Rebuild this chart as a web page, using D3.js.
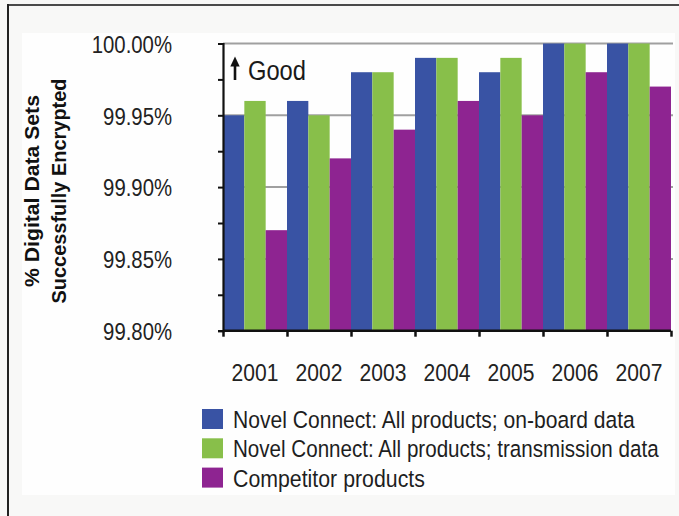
<!DOCTYPE html>
<html>
<head>
<meta charset="utf-8">
<script src="https://cdn.jsdelivr.net/npm/d3@7"></script>
<style>
  html, body { margin: 0; padding: 0; background: #f8f8f7; }
  svg { display: block; }
  text { font-family: "Liberation Sans", Arial, sans-serif; }
</style>
</head>
<body>
<svg id="chart" width="679" height="516"></svg>
<script>
// Encryption success rate by year (percent)
const years = ["2001", "2002", "2003", "2004", "2005", "2006", "2007"];
const seriesNames = [
  "Novel Connect: All products; on-board data",
  "Novel Connect: All products; transmission data",
  "Competitor products"
];
const onBoard      = [99.95, 99.96, 99.98, 99.99, 99.98, 100.00, 100.00];
const transmission = [99.96, 99.95, 99.98, 99.99, 99.99, 100.00, 100.00];
const competitor   = [99.87, 99.92, 99.94, 99.96, 99.95, 99.98, 99.97];
const seriesColors = ["#3953a4", "#88bf4a", "#8e2491"];
const yTicks = [99.80, 99.85, 99.90, 99.95, 100.00];
const yMinorTicks = [99.80, 99.825, 99.85, 99.875, 99.90, 99.925, 99.95, 99.975, 100.00];

const seriesValues = [onBoard, transmission, competitor];
const rows = years.map((yr, i) => ({
  year: yr,
  values: seriesValues.map((vals, s) => ({ s, v: vals[i] }))
}));

const svg = d3.select("#chart");

// Narrow a text horizontally: move its x/y into a transform and scale x by k.
// If a target width is given, k is derived from the natural width.
function squeeze(sel, k, width) {
  sel.each(function () {
    const t = d3.select(this);
    const w = this.getComputedTextLength();
    const f = width ? width / w : k;
    const tx = +t.attr("x") || 0, ty = +t.attr("y") || 0;
    const prev = t.attr("transform") || "";
    t.attr("x", 0).attr("y", 0)
      .attr("transform", `${prev} translate(${tx},${ty}) scale(${f},1)`);
  });
}

// frame
svg.append("rect").attr("x", 22).attr("y", 33).attr("width", 653).attr("height", 462)
  .attr("fill", "#fefefe");
svg.append("line").attr("x1", 8).attr("x2", 679).attr("y1", 5).attr("y2", 5)
  .attr("stroke", "#4a4a4a").attr("stroke-width", 2);
svg.append("line").attr("x1", 8).attr("x2", 8).attr("y1", 4).attr("y2", 516)
  .attr("stroke", "#222").attr("stroke-width", 2);

const plotLeft = 223, plotRight = 671, plotTop = 43.5, plotBottom = 330.7;

const x = d3.scaleBand().domain(years).range([plotLeft, plotRight]).padding(0);
const xs = d3.scaleBand().domain(d3.range(seriesNames.length)).range([0, x.bandwidth()]).padding(0);
const y = d3.scaleLinear().domain([99.8, 100]).range([plotBottom, plotTop]);

// gridlines
svg.append("g").selectAll("line")
  .data(yTicks.filter(t => t > 99.8))
  .join("line")
  .attr("x1", plotLeft).attr("x2", 673)
  .attr("y1", d => y(d)).attr("y2", d => y(d))
  .attr("stroke", "#a0a0a0").attr("stroke-width", 2);

// bars
svg.append("g").selectAll("g")
  .data(rows)
  .join("g")
  .attr("transform", d => `translate(${x(d.year)},0)`)
  .selectAll("rect")
  .data(d => d.values)
  .join("rect")
  .attr("x", d => xs(d.s))
  .attr("width", xs.bandwidth())
  .attr("y", d => y(d.v))
  .attr("height", d => y(99.8) - y(d.v))
  .attr("fill", d => seriesColors[d.s]);

// y axis
const yAxis = d3.axisLeft(y)
  .tickValues(yMinorTicks)
  .tickSize(5)
  .tickPadding(46)
  .tickFormat(d => yTicks.some(t => Math.abs(t - d) < 1e-9) ? d3.format(".2f")(d) + "%" : "");
const gy = svg.append("g").attr("transform", `translate(${plotLeft},0)`).call(yAxis);
gy.select(".domain").attr("stroke", "#111").attr("stroke-width", 2.2);
gy.selectAll(".tick line").attr("stroke", "#111").attr("stroke-width", 2);
gy.selectAll(".tick text")
  .attr("font-size", 24.5).attr("fill", "#222").attr("dy", "0.36em")
  .call(squeeze, 0.83);

// x axis: category boundary ticks + centered labels
const xEdge = d3.scaleLinear().domain([0, years.length]).range([plotLeft, plotRight]);
const gx = svg.append("g").attr("transform", `translate(0,${plotBottom})`)
  .call(d3.axisBottom(xEdge).tickValues(d3.range(years.length + 1)).tickSize(6).tickFormat(""));
gx.select(".domain").attr("stroke", "#111").attr("stroke-width", 2.5).attr("d", `M${plotLeft},0H${plotRight}`);
gx.selectAll(".tick line").attr("stroke", "#111").attr("stroke-width", 2.5);

const gxl = svg.append("g").attr("transform", `translate(0,${plotBottom})`)
  .call(d3.axisBottom(x).tickSize(0).tickPadding(41));
gxl.select(".domain").remove();
gxl.selectAll(".tick text")
  .attr("font-size", 24.5).attr("fill", "#222").attr("dy", "0.36em")
  .call(squeeze, 0.86);

// y axis title
const yTitle = svg.append("g").attr("transform", "translate(0,191) rotate(-90)");
yTitle.append("text").attr("x", 0).attr("y", 38.5).attr("text-anchor", "middle")
  .attr("font-size", 20.5).attr("font-weight", "bold").attr("fill", "#111")
  .text("% Digital Data Sets").call(squeeze, null, 192);
yTitle.append("text").attr("x", 0).attr("y", 65.5).attr("text-anchor", "middle")
  .attr("font-size", 20.5).attr("font-weight", "bold").attr("fill", "#111")
  .text("Successfully Encrypted").call(squeeze, null, 225);

// "better" direction marker
const good = svg.append("g");
good.append("line").attr("x1", 235).attr("x2", 235).attr("y1", 80).attr("y2", 62)
  .attr("stroke", "#111").attr("stroke-width", 2.6);
good.append("path").attr("d", "M235,56.5L230.3,66.5L239.7,66.5Z").attr("fill", "#111");
good.append("text").attr("x", 248).attr("y", 79.5)
  .attr("font-size", 28).attr("fill", "#1a1a1a").text("Good").call(squeeze, null, 58);

// legend
const legendWidths = [402, 426, 192];
const legend = svg.append("g").selectAll("g")
  .data(seriesNames)
  .join("g")
  .attr("transform", (d, i) => `translate(202,${409 + i * 29.3})`);
legend.append("rect").attr("width", 21).attr("height", 20)
  .attr("fill", (d, i) => seriesColors[i]);
legend.append("text").attr("x", 31).attr("y", 19)
  .attr("font-size", 23.5).attr("fill", "#1e1e1e")
  .text(d => d)
  .each(function (d, i) { d3.select(this).call(squeeze, null, legendWidths[i]); });
</script>
</body>
</html>
